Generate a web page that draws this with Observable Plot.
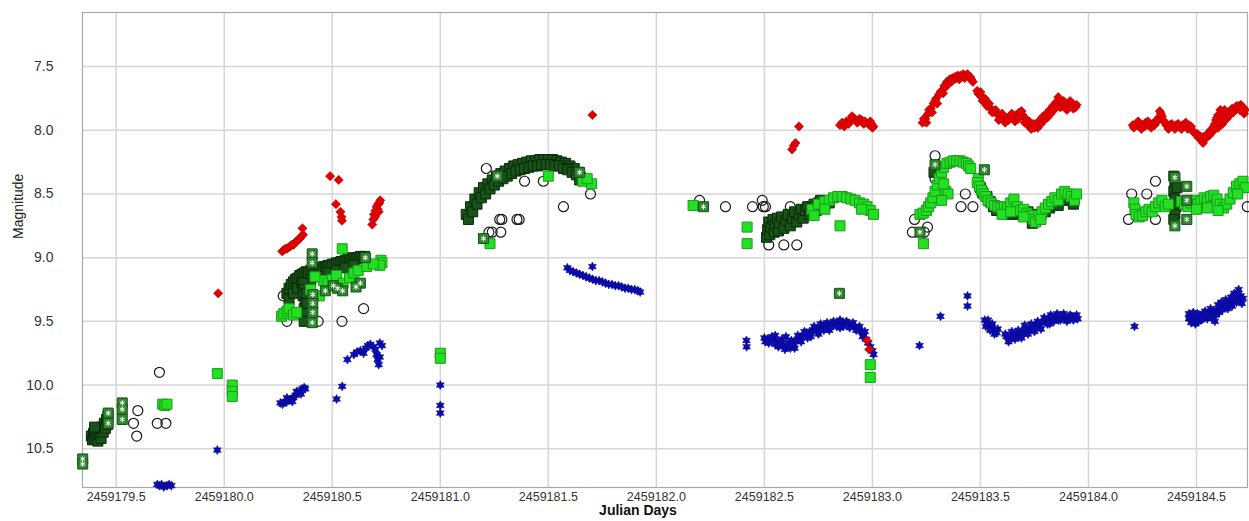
<!DOCTYPE html>
<html>
<head>
<meta charset="utf-8">
<script src="https://cdn.jsdelivr.net/npm/d3@7"></script>
<script src="https://cdn.jsdelivr.net/npm/@observablehq/plot@0.6"></script>
<style>
  html, body { margin: 0; padding: 0; background: #fff; }
  #chart svg { display: block; }
</style>
</head>
<body>
<div id="chart"></div>
<script>
// ---------- tick values ----------
const xTicks = [2459179.5, 2459180.0, 2459180.5, 2459181.0, 2459181.5, 2459182.0, 2459182.5, 2459183.0, 2459183.5, 2459184.0, 2459184.5];
const yTicks = [7.5, 8.0, 8.5, 9.0, 9.5, 10.0, 10.5];
const xLabel = "Julian Days";
const yLabel = "Magnitude";

// ---------- series: [JD, magnitude] ----------
const redDiamonds = [
  [2459179.972, 9.28],
  [2459180.268, 8.95],[2459180.275, 8.94],[2459180.283, 8.93],[2459180.290, 8.93],[2459180.298, 8.92],[2459180.305, 8.91],[2459180.312, 8.90],[2459180.320, 8.90],[2459180.328, 8.88],[2459180.335, 8.87],[2459180.343, 8.86],[2459180.350, 8.85],[2459180.358, 8.83],[2459180.365, 8.82],[2459180.362, 8.77],
  [2459180.490, 8.36],[2459180.530, 8.39],[2459180.517, 8.58],[2459180.538, 8.64],[2459180.543, 8.68],[2459180.545, 8.71],
  [2459180.685, 8.74],[2459180.690, 8.70],[2459180.693, 8.66],[2459180.698, 8.68],[2459180.700, 8.63],[2459180.705, 8.60],[2459180.710, 8.62],[2459180.712, 8.58],[2459180.718, 8.57],[2459180.722, 8.55],[2459180.715, 8.64],
  [2459181.704, 7.88],
  [2459182.628, 8.15],[2459182.636, 8.12],[2459182.644, 8.10],[2459182.660, 7.97],
  [2459182.850, 7.96],[2459182.860, 7.94],[2459182.880, 7.93],[2459182.900, 7.92],[2459182.912, 7.90],[2459182.930, 7.94],[2459182.950, 7.92],[2459182.965, 7.93],[2459182.980, 7.95],[2459182.995, 7.95],[2459183.005, 7.97],
  [2459182.870, 7.97],[2459182.890, 7.95],[2459182.905, 7.89],[2459182.940, 7.91],[2459182.960, 7.95],[2459182.990, 7.93],[2459183.000, 7.98],
  [2459182.975, 9.65],[2459182.985, 9.72],
  [2459183.232, 7.94],[2459183.245, 7.91],[2459183.258, 7.87],[2459183.270, 7.83],[2459183.283, 7.79],[2459183.295, 7.75],[2459183.308, 7.72],[2459183.320, 7.69],[2459183.333, 7.65],[2459183.345, 7.62],[2459183.358, 7.60],[2459183.370, 7.59],[2459183.383, 7.58],[2459183.395, 7.57],[2459183.408, 7.57],[2459183.420, 7.56],[2459183.433, 7.57],[2459183.445, 7.58],[2459183.458, 7.60],
  [2459183.238, 7.91],[2459183.250, 7.94],[2459183.262, 7.84],[2459183.276, 7.86],[2459183.290, 7.77],[2459183.300, 7.79],[2459183.315, 7.70],[2459183.327, 7.71],[2459183.340, 7.66],[2459183.352, 7.63],[2459183.365, 7.62],[2459183.378, 7.60],[2459183.390, 7.59],[2459183.402, 7.60],[2459183.415, 7.58],[2459183.427, 7.59],[2459183.440, 7.56],[2459183.452, 7.58],[2459183.465, 7.62],
  [2459183.485, 7.69],[2459183.495, 7.72],[2459183.505, 7.74],[2459183.515, 7.76],[2459183.525, 7.78],[2459183.535, 7.80],[2459183.548, 7.83],[2459183.560, 7.85],[2459183.575, 7.87],[2459183.590, 7.89],[2459183.605, 7.90],[2459183.620, 7.91],[2459183.635, 7.89],[2459183.650, 7.90],[2459183.665, 7.88],[2459183.680, 7.86],[2459183.695, 7.88],[2459183.710, 7.91],[2459183.725, 7.93],[2459183.740, 7.96],[2459183.750, 7.98],[2459183.760, 7.95],[2459183.775, 7.92],[2459183.790, 7.89],[2459183.805, 7.87],[2459183.820, 7.84],[2459183.835, 7.81],[2459183.850, 7.78],[2459183.865, 7.77],[2459183.880, 7.80],[2459183.895, 7.82],[2459183.910, 7.80],[2459183.925, 7.79],[2459183.940, 7.82],
  [2459183.490, 7.71],[2459183.500, 7.70],[2459183.510, 7.77],[2459183.520, 7.75],[2459183.530, 7.81],[2459183.540, 7.79],[2459183.555, 7.86],[2459183.570, 7.84],[2459183.585, 7.92],[2459183.600, 7.87],[2459183.615, 7.94],[2459183.630, 7.92],[2459183.645, 7.87],[2459183.660, 7.93],[2459183.675, 7.91],[2459183.690, 7.85],[2459183.705, 7.94],[2459183.720, 7.96],[2459183.735, 7.99],[2459183.745, 7.95],[2459183.765, 7.98],[2459183.780, 7.95],[2459183.795, 7.92],[2459183.810, 7.90],[2459183.825, 7.87],[2459183.840, 7.84],[2459183.855, 7.81],[2459183.860, 7.74],[2459183.870, 7.82],[2459183.885, 7.77],[2459183.900, 7.84],[2459183.915, 7.77],[2459183.930, 7.83],[2459183.945, 7.80],
  [2459184.205, 7.96],[2459184.220, 7.95],[2459184.235, 7.97],[2459184.250, 7.96],[2459184.265, 7.94],[2459184.280, 7.96],[2459184.295, 7.95],[2459184.310, 7.93],[2459184.325, 7.90],[2459184.335, 7.87],[2459184.345, 7.92],[2459184.360, 7.96],[2459184.375, 7.96],[2459184.390, 7.97],[2459184.405, 7.96],[2459184.420, 7.97],[2459184.435, 7.96],[2459184.450, 7.94],[2459184.465, 7.96],[2459184.480, 8.00],[2459184.495, 8.03],[2459184.510, 8.06],[2459184.525, 8.08],[2459184.535, 8.05],[2459184.550, 8.03],[2459184.565, 8.00],[2459184.580, 7.97],[2459184.590, 7.92],[2459184.600, 7.88],[2459184.610, 7.84],[2459184.620, 7.86],[2459184.635, 7.89],[2459184.650, 7.86],[2459184.665, 7.83],[2459184.680, 7.84],[2459184.695, 7.81],[2459184.710, 7.84],[2459184.720, 7.87],[2459184.600, 7.98],[2459184.620, 7.95],
  [2459184.210, 7.98],[2459184.230, 7.93],[2459184.245, 7.99],[2459184.260, 7.97],[2459184.275, 7.93],[2459184.290, 7.98],[2459184.305, 7.96],[2459184.320, 7.93],[2459184.330, 7.85],[2459184.340, 7.89],[2459184.355, 7.94],[2459184.370, 7.99],[2459184.385, 7.95],[2459184.400, 7.99],[2459184.415, 7.95],[2459184.430, 7.99],[2459184.445, 7.97],[2459184.460, 7.99],[2459184.475, 7.97],[2459184.490, 8.02],[2459184.505, 8.03],[2459184.520, 8.05],[2459184.530, 8.10],[2459184.545, 8.06],[2459184.560, 8.04],[2459184.575, 8.01],[2459184.585, 7.95],[2459184.595, 7.90],[2459184.605, 7.93],[2459184.615, 7.88],[2459184.630, 7.84],[2459184.640, 7.91],[2459184.655, 7.88],[2459184.670, 7.86],[2459184.685, 7.81],[2459184.700, 7.84],[2459184.705, 7.80],[2459184.715, 7.82],[2459184.725, 7.84]
];

const blueStars = [
  [2459179.968, 10.51],
  [2459179.690, 10.78],[2459179.700, 10.79],[2459179.710, 10.78],[2459179.720, 10.80],[2459179.735, 10.79],[2459179.745, 10.78],[2459179.755, 10.79],
  [2459180.260, 10.14],[2459180.270, 10.15],[2459180.280, 10.13],[2459180.290, 10.13],[2459180.300, 10.12],[2459180.310, 10.11],[2459180.320, 10.10],[2459180.330, 10.08],[2459180.340, 10.06],[2459180.350, 10.05],[2459180.360, 10.03],[2459180.370, 10.02],[2459180.375, 10.03],
  [2459180.290, 10.10],[2459180.315, 10.13],[2459180.335, 10.05],[2459180.355, 10.07],
  [2459180.520, 10.11],[2459180.546, 10.01],
  [2459180.570, 9.80],[2459180.600, 9.76],[2459180.615, 9.74],[2459180.630, 9.73],[2459180.645, 9.75],[2459180.655, 9.71],[2459180.665, 9.69],[2459180.676, 9.68],[2459180.690, 9.70],[2459180.700, 9.72],[2459180.705, 9.76],[2459180.710, 9.80],[2459180.715, 9.84],[2459180.720, 9.67],[2459180.730, 9.69],[2459180.720, 9.78],
  [2459181.000, 10.00],[2459181.000, 10.16],[2459181.000, 10.22],
  [2459181.588, 9.08],[2459181.600, 9.10],[2459181.615, 9.11],[2459181.630, 9.12],[2459181.645, 9.13],[2459181.660, 9.14],[2459181.675, 9.15],[2459181.690, 9.16],[2459181.704, 9.07],[2459181.705, 9.17],[2459181.720, 9.18],[2459181.735, 9.18],[2459181.750, 9.19],[2459181.765, 9.20],[2459181.780, 9.21],[2459181.795, 9.21],[2459181.810, 9.22],[2459181.825, 9.22],[2459181.840, 9.23],[2459181.855, 9.24],[2459181.870, 9.24],[2459181.885, 9.25],[2459181.900, 9.25],[2459181.915, 9.26],[2459181.925, 9.27],
  [2459182.417, 9.65],[2459182.418, 9.70],
  [2459182.500, 9.63],[2459182.515, 9.64],[2459182.530, 9.64],[2459182.545, 9.65],[2459182.560, 9.66],[2459182.575, 9.67],[2459182.590, 9.69],[2459182.605, 9.70],[2459182.620, 9.71],[2459182.635, 9.68],[2459182.650, 9.65],[2459182.665, 9.63],[2459182.680, 9.61],[2459182.695, 9.59],[2459182.710, 9.58],[2459182.725, 9.57],[2459182.740, 9.56],[2459182.755, 9.55],[2459182.770, 9.54],[2459182.785, 9.53],[2459182.800, 9.53],[2459182.815, 9.52],[2459182.830, 9.52],[2459182.845, 9.51],[2459182.860, 9.51],[2459182.875, 9.52],[2459182.890, 9.52],[2459182.905, 9.53],[2459182.920, 9.54],[2459182.935, 9.56],[2459182.950, 9.58],[2459182.960, 9.61],[2459182.970, 9.64],[2459182.980, 9.67],[2459182.990, 9.70],[2459183.000, 9.73],[2459183.005, 9.76],
  [2459182.600, 9.62],[2459182.700, 9.63],[2459182.800, 9.57],[2459182.550, 9.61],[2459182.750, 9.60],[2459182.850, 9.55],
  [2459182.505, 9.66],[2459182.520, 9.67],[2459182.535, 9.62],[2459182.550, 9.68],[2459182.565, 9.70],[2459182.580, 9.64],[2459182.595, 9.72],[2459182.610, 9.67],[2459182.625, 9.65],[2459182.640, 9.71],[2459182.655, 9.61],[2459182.670, 9.66],[2459182.685, 9.58],[2459182.700, 9.60],[2459182.715, 9.62],[2459182.730, 9.54],[2459182.745, 9.58],[2459182.760, 9.52],[2459182.775, 9.57],[2459182.790, 9.51],[2459182.805, 9.55],[2459182.820, 9.50],[2459182.835, 9.54],[2459182.850, 9.49],[2459182.865, 9.54],[2459182.880, 9.50],[2459182.895, 9.55],[2459182.910, 9.51],[2459182.925, 9.57],[2459182.940, 9.54],[2459182.955, 9.62],[2459182.965, 9.58],
  [2459183.218, 9.69],[2459183.315, 9.46],[2459183.440, 9.30],[2459183.440, 9.38],
  [2459183.520, 9.49],[2459183.530, 9.52],[2459183.540, 9.54],[2459183.550, 9.55],[2459183.560, 9.57],[2459183.575, 9.59],
  [2459183.525, 9.54],[2459183.535, 9.49],[2459183.545, 9.57],[2459183.555, 9.52],[2459183.565, 9.60],[2459183.580, 9.56],
  [2459183.620, 9.62],[2459183.635, 9.64],[2459183.650, 9.61],[2459183.665, 9.60],[2459183.680, 9.62],[2459183.695, 9.58],[2459183.710, 9.56],[2459183.725, 9.57],[2459183.740, 9.55],[2459183.755, 9.53],[2459183.770, 9.54],[2459183.785, 9.51],[2459183.800, 9.50],[2459183.815, 9.49],[2459183.830, 9.48],[2459183.845, 9.47],[2459183.860, 9.49],[2459183.875, 9.46],[2459183.890, 9.47],[2459183.905, 9.48],[2459183.920, 9.46],[2459183.935, 9.47],[2459183.950, 9.48],[2459183.700, 9.60],[2459183.750, 9.58],[2459183.820, 9.52],
  [2459183.615, 9.60],[2459183.630, 9.66],[2459183.645, 9.58],[2459183.660, 9.64],[2459183.675, 9.57],[2459183.690, 9.63],[2459183.705, 9.53],[2459183.720, 9.60],[2459183.735, 9.52],[2459183.750, 9.55],[2459183.765, 9.50],[2459183.780, 9.56],[2459183.795, 9.47],[2459183.810, 9.52],[2459183.825, 9.45],[2459183.840, 9.50],[2459183.855, 9.44],[2459183.870, 9.49],[2459183.885, 9.44],[2459183.900, 9.50],[2459183.915, 9.45],[2459183.930, 9.49],[2459183.945, 9.45],
  [2459184.213, 9.54],
  [2459184.465, 9.44],[2459184.470, 9.47],[2459184.480, 9.46],[2459184.490, 9.49],[2459184.500, 9.47],[2459184.515, 9.45],[2459184.530, 9.44],[2459184.545, 9.46],[2459184.560, 9.43],[2459184.575, 9.42],[2459184.585, 9.50],[2459184.595, 9.41],[2459184.610, 9.39],[2459184.625, 9.37],[2459184.640, 9.38],[2459184.655, 9.35],[2459184.670, 9.33],[2459184.680, 9.30],[2459184.690, 9.28],[2459184.700, 9.33],[2459184.710, 9.36],[2459184.520, 9.49],[2459184.550, 9.48],
  [2459184.465, 9.48],[2459184.475, 9.51],[2459184.485, 9.43],[2459184.495, 9.52],[2459184.505, 9.44],[2459184.510, 9.50],[2459184.525, 9.48],[2459184.540, 9.42],[2459184.555, 9.45],[2459184.565, 9.40],[2459184.570, 9.47],[2459184.590, 9.45],[2459184.600, 9.37],[2459184.605, 9.43],[2459184.615, 9.35],[2459184.620, 9.41],[2459184.635, 9.33],[2459184.645, 9.40],[2459184.660, 9.31],[2459184.665, 9.38],[2459184.675, 9.28],[2459184.685, 9.35],[2459184.695, 9.25],[2459184.705, 9.30],[2459184.715, 9.32]
];

const visualCircles = [
  [2459179.700, 9.90],[2459179.600, 10.20],[2459179.580, 10.30],[2459179.595, 10.40],[2459179.690, 10.30],[2459179.730, 10.30],
  [2459180.273, 9.30],[2459180.290, 9.50],[2459180.435, 9.50],[2459180.545, 9.50],[2459180.645, 9.40],[2459180.570, 9.00],
  [2459181.213, 8.30],[2459181.390, 8.40],[2459181.477, 8.40],[2459181.695, 8.50],[2459181.570, 8.60],[2459181.275, 8.70],[2459181.285, 8.70],[2459181.355, 8.70],[2459181.365, 8.70],[2459181.225, 8.80],[2459181.240, 8.80],[2459181.280, 8.80],
  [2459182.200, 8.55],[2459182.320, 8.60],[2459182.445, 8.60],[2459182.490, 8.55],[2459182.495, 8.60],[2459182.505, 8.60],[2459182.620, 8.60],[2459182.520, 8.90],[2459182.590, 8.90],[2459182.650, 8.90],
  [2459183.290, 8.20],[2459183.290, 8.38],[2459183.430, 8.50],[2459183.410, 8.60],[2459183.465, 8.60],[2459183.195, 8.70],[2459183.185, 8.80],[2459183.240, 8.80],[2459183.255, 8.76],
  [2459184.310, 8.40],[2459184.200, 8.50],[2459184.270, 8.50],[2459184.185, 8.70],[2459184.310, 8.70],[2459184.735, 8.60]
];

const greenSquares = [
  [2459179.715, 10.15],[2459179.725, 10.16],[2459179.735, 10.15],
  [2459179.968, 9.91],
  [2459180.037, 10.00],[2459180.037, 10.05],[2459180.037, 10.09],
  [2459180.265, 9.46],[2459180.275, 9.44],[2459180.290, 9.42],[2459180.300, 9.40],[2459180.320, 9.45],[2459180.335, 9.43],
  [2459180.546, 8.93],
  [2459180.725, 9.02],[2459180.730, 9.04],[2459180.720, 9.06],
  [2459180.460, 9.18],[2459180.480, 9.20],[2459180.500, 9.17],[2459180.520, 9.14],[2459180.550, 9.20],[2459180.580, 9.16],[2459180.600, 9.12],[2459180.620, 9.10],[2459180.660, 9.07],[2459180.690, 9.05],[2459180.400, 9.25],[2459180.420, 9.15],[2459180.440, 9.30],
  [2459181.000, 9.75],[2459181.000, 9.79],
  [2459181.230, 8.89],
  [2459181.500, 8.36],[2459181.660, 8.40],[2459181.700, 8.42],[2459181.680, 8.38],
  [2459182.170, 8.59],
  [2459182.420, 8.76],[2459182.420, 8.89],
  [2459182.850, 8.75],
  [2459182.990, 9.84],[2459182.990, 9.94],
  [2459182.720, 8.62],[2459182.750, 8.58],[2459182.780, 8.56],[2459182.800, 8.55],[2459182.820, 8.53],[2459182.840, 8.52],[2459182.860, 8.52],[2459182.880, 8.53],[2459182.900, 8.54],[2459182.920, 8.55],[2459182.940, 8.57],[2459182.960, 8.58],[2459182.975, 8.60],[2459182.990, 8.63],[2459183.005, 8.66],[2459182.950, 8.62],[2459182.780, 8.62],[2459182.730, 8.67],
  [2459183.236, 8.89],
  [2459183.220, 8.66],[2459183.235, 8.65],[2459183.250, 8.63],[2459183.260, 8.60],[2459183.270, 8.57],[2459183.280, 8.53],[2459183.290, 8.48],[2459183.300, 8.43],[2459183.310, 8.38],[2459183.320, 8.33],[2459183.330, 8.29],[2459183.345, 8.26],[2459183.360, 8.25],[2459183.375, 8.24],[2459183.390, 8.24],[2459183.405, 8.24],[2459183.420, 8.25],[2459183.435, 8.26],[2459183.445, 8.28],[2459183.455, 8.30],[2459183.340, 8.48],[2459183.350, 8.50],[2459183.320, 8.55],[2459183.330, 8.42],
  [2459183.490, 8.38],
  [2459183.485, 8.41],[2459183.495, 8.44],[2459183.505, 8.47],[2459183.515, 8.50],[2459183.525, 8.52],[2459183.535, 8.55],[2459183.550, 8.57],[2459183.565, 8.59],[2459183.580, 8.60],[2459183.595, 8.61],[2459183.610, 8.60],[2459183.625, 8.61],[2459183.640, 8.57],[2459183.655, 8.54],[2459183.670, 8.60],[2459183.685, 8.63],[2459183.700, 8.62],[2459183.715, 8.65],[2459183.730, 8.67],[2459183.745, 8.70],[2459183.755, 8.72],[2459183.770, 8.67],[2459183.785, 8.64],[2459183.800, 8.61],[2459183.815, 8.58],[2459183.830, 8.56],[2459183.845, 8.53],[2459183.860, 8.55],[2459183.875, 8.50],[2459183.890, 8.48],[2459183.905, 8.50],[2459183.920, 8.52],[2459183.935, 8.55],[2459183.945, 8.50],[2459183.600, 8.66],[2459183.640, 8.64],[2459183.700, 8.68],[2459183.780, 8.70],
  [2459184.210, 8.57],[2459184.215, 8.62],[2459184.220, 8.66],[2459184.235, 8.68],[2459184.250, 8.67],[2459184.265, 8.64],[2459184.280, 8.62],[2459184.295, 8.64],[2459184.310, 8.60],[2459184.325, 8.57],[2459184.340, 8.55],[2459184.355, 8.60],[2459184.370, 8.58],[2459184.430, 8.56],[2459184.445, 8.58],[2459184.460, 8.60],[2459184.475, 8.57],[2459184.490, 8.55],[2459184.505, 8.58],[2459184.520, 8.56],[2459184.535, 8.53],[2459184.550, 8.55],[2459184.565, 8.52],[2459184.580, 8.51],[2459184.595, 8.54],[2459184.610, 8.58],[2459184.625, 8.61],[2459184.640, 8.58],[2459184.655, 8.54],[2459184.670, 8.49],[2459184.685, 8.44],[2459184.700, 8.42],[2459184.715, 8.40],[2459184.725, 8.45],[2459184.690, 8.50],[2459184.600, 8.63],[2459184.500, 8.62],[2459184.550, 8.61]
];

const darkSquares = [
  [2459179.385, 10.40],[2459179.390, 10.43],[2459179.395, 10.38],[2459179.400, 10.42],[2459179.405, 10.36],[2459179.410, 10.40],[2459179.415, 10.44],[2459179.420, 10.35],[2459179.425, 10.39],[2459179.430, 10.42],[2459179.435, 10.33],[2459179.440, 10.37],[2459179.445, 10.30],[2459179.450, 10.34],[2459179.455, 10.27],[2459179.460, 10.31],[2459179.462, 10.24],[2459179.400, 10.33],
  [2459180.290, 9.28],[2459180.300, 9.24],[2459180.310, 9.21],[2459180.320, 9.19],[2459180.330, 9.17],[2459180.340, 9.16],[2459180.350, 9.14],[2459180.360, 9.13],[2459180.370, 9.12],[2459180.380, 9.11],[2459180.390, 9.12],[2459180.400, 9.10],[2459180.410, 9.11],[2459180.420, 9.09],[2459180.430, 9.10],[2459180.440, 9.08],[2459180.450, 9.09],[2459180.460, 9.07],[2459180.470, 9.08],[2459180.480, 9.06],[2459180.490, 9.07],[2459180.500, 9.05],[2459180.510, 9.06],[2459180.520, 9.04],[2459180.530, 9.05],[2459180.540, 9.03],[2459180.550, 9.04],[2459180.560, 9.02],[2459180.570, 9.03],[2459180.580, 9.01],[2459180.590, 9.02],[2459180.600, 9.00],[2459180.610, 9.01],[2459180.620, 9.00],[2459180.630, 8.99],[2459180.640, 9.00],[2459180.650, 8.99],
  [2459180.300, 9.33],[2459180.320, 9.28],[2459180.340, 9.24],[2459180.360, 9.20],[2459180.400, 9.18],[2459180.440, 9.15],[2459180.480, 9.12],[2459180.520, 9.10],[2459180.560, 9.08],[2459180.600, 9.06],
  [2459180.365, 9.20],[2459180.370, 9.25],[2459180.365, 9.30],[2459180.375, 9.35],[2459180.370, 9.40],[2459180.375, 9.45],[2459180.370, 9.50],[2459180.380, 9.28],[2459180.380, 9.42],[2459180.385, 9.36],
  [2459181.120, 8.66],[2459181.140, 8.60],[2459181.160, 8.54],[2459181.180, 8.49],[2459181.200, 8.45],[2459181.220, 8.42],[2459181.240, 8.39],[2459181.260, 8.36],[2459181.280, 8.34],[2459181.300, 8.32],[2459181.320, 8.30],[2459181.340, 8.28],[2459181.360, 8.27],[2459181.380, 8.26],[2459181.400, 8.25],[2459181.420, 8.24],[2459181.440, 8.24],[2459181.460, 8.23],[2459181.480, 8.23],[2459181.500, 8.23],[2459181.520, 8.23],[2459181.540, 8.24],[2459181.560, 8.25],[2459181.580, 8.26],[2459181.600, 8.28],[2459181.620, 8.30],[2459181.640, 8.33],[2459181.650, 8.37],
  [2459181.130, 8.70],[2459181.150, 8.64],[2459181.170, 8.58],[2459181.190, 8.53],[2459181.210, 8.50],[2459181.230, 8.46],[2459181.250, 8.43],[2459181.270, 8.40],[2459181.290, 8.38],[2459181.310, 8.36],[2459181.330, 8.34],[2459181.350, 8.32],[2459181.370, 8.31],[2459181.390, 8.30],[2459181.410, 8.29],[2459181.430, 8.28],[2459181.450, 8.28],[2459181.470, 8.27],[2459181.490, 8.27],[2459181.510, 8.27],[2459181.530, 8.28],[2459181.550, 8.28],[2459181.570, 8.30],[2459181.590, 8.31],[2459181.610, 8.33],[2459181.630, 8.35],[2459181.645, 8.39],
  [2459182.510, 8.84],[2459182.515, 8.78],[2459182.520, 8.72],[2459182.525, 8.82],[2459182.530, 8.76],[2459182.540, 8.70],[2459182.545, 8.80],[2459182.550, 8.74],[2459182.560, 8.69],[2459182.565, 8.79],[2459182.570, 8.73],[2459182.580, 8.68],[2459182.590, 8.77],[2459182.600, 8.71],[2459182.610, 8.66],[2459182.620, 8.75],[2459182.630, 8.69],[2459182.640, 8.64],[2459182.650, 8.72],[2459182.660, 8.66],[2459182.670, 8.62],[2459182.680, 8.69],[2459182.690, 8.63],[2459182.700, 8.60],[2459182.710, 8.66],[2459182.720, 8.60],[2459182.730, 8.58],[2459182.740, 8.63],[2459182.750, 8.57],[2459182.760, 8.55],[2459182.780, 8.59],[2459182.800, 8.57],
  [2459183.285, 8.33],
  [2459183.500, 8.45],[2459183.530, 8.52],[2459183.560, 8.60],[2459183.590, 8.63],[2459183.620, 8.62],[2459183.660, 8.63],[2459183.720, 8.64],[2459183.760, 8.66],[2459183.800, 8.64],[2459183.840, 8.58],[2459183.880, 8.54],
  [2459183.510, 8.49],[2459183.545, 8.56],[2459183.575, 8.63],[2459183.605, 8.64],[2459183.635, 8.66],[2459183.680, 8.66],[2459183.740, 8.73],[2459183.780, 8.66],[2459183.820, 8.61],[2459183.860, 8.59],[2459183.900, 8.55],[2459183.930, 8.58],
  [2459184.395, 8.36],[2459184.400, 8.42],[2459184.395, 8.48],[2459184.400, 8.54],[2459184.405, 8.60],[2459184.400, 8.66],[2459184.395, 8.70],[2459184.410, 8.45],[2459184.410, 8.58]
];

const starSquares = [
  [2459179.345, 10.58],[2459179.345, 10.62],
  [2459179.463, 10.22],[2459179.463, 10.30],
  [2459179.528, 10.14],[2459179.528, 10.19],[2459179.528, 10.27],
  [2459180.407, 8.97],[2459180.407, 9.04],[2459180.410, 9.29],[2459180.410, 9.36],[2459180.410, 9.43],[2459180.407, 9.51],
  [2459180.653, 9.00],[2459180.630, 9.20],[2459180.468, 9.26],[2459180.505, 9.22],[2459180.525, 9.24],[2459180.548, 9.26],[2459180.610, 9.23],
  [2459181.264, 8.36],[2459181.200, 8.85],[2459181.645, 8.33],
  [2459182.218, 8.60],
  [2459182.847, 9.28],
  [2459183.290, 8.27],[2459183.220, 8.80],[2459183.518, 8.31],
  [2459184.400, 8.37],[2459184.400, 8.75],[2459184.455, 8.44],[2459184.455, 8.70],[2459184.455, 8.55]
];

// ---------- custom marker shapes ----------
const squareSym = {draw(ctx, size) { const r = Math.sqrt(size / Math.PI); ctx.moveTo(-r, -r); ctx.lineTo(r, -r); ctx.lineTo(r, r); ctx.lineTo(-r, r); ctx.closePath(); }};
const diamondSym = {draw(ctx, size) { const r = Math.sqrt(size / Math.PI); ctx.moveTo(0, -r); ctx.lineTo(r, 0); ctx.lineTo(0, r); ctx.lineTo(-r, 0); ctx.closePath(); }};
const star6Sym = {draw(ctx, size) {
  const R = Math.sqrt(size / Math.PI), ri = R * 0.55;
  for (let i = 0; i < 12; i++) {
    const a = -Math.PI / 2 + i * Math.PI / 6, rr = i % 2 ? ri : R;
    const px = rr * Math.cos(a), py = rr * Math.sin(a);
    if (i === 0) ctx.moveTo(px, py); else ctx.lineTo(px, py);
  }
  ctx.closePath();
}};
const asteriskSym = {draw(ctx, size) {
  const r = Math.sqrt(size / Math.PI);
  for (let i = 0; i < 3; i++) {
    const a = Math.PI / 2 + i * Math.PI / 3;
    ctx.moveTo(r * Math.cos(a), r * Math.sin(a));
    ctx.lineTo(-r * Math.cos(a), -r * Math.sin(a));
  }
}};

const X = d => d[0], Y = d => d[1];

const chart = Plot.plot({
  width: 1249,
  height: 521,
  marginLeft: 82,
  marginRight: 2,
  marginTop: 12,
  marginBottom: 34,
  style: {background: "#fff", fontFamily: "'Liberation Sans', Arial, sans-serif", color: "#333"},
  x: {domain: [2459179.344, 2459184.736]},
  y: {domain: [10.804, 7.0755]},
  marks: [
    Plot.gridX(xTicks, {stroke: "#d6d6d6", strokeOpacity: 1, strokeWidth: 1.5}),
    Plot.gridY(yTicks, {stroke: "#d6d6d6", strokeOpacity: 1, strokeWidth: 1.5}),
    Plot.frame({stroke: "#a8a8a8", strokeWidth: 1.2}),
    Plot.axisX(xTicks, {tickSize: 0, tickPadding: 5, tickFormat: d3.format(".1f"), fontSize: 12.5, fill: "#333", label: null}),
    Plot.axisY(yTicks, {tickSize: 0, tickPadding: 29, tickFormat: d3.format(".1f"), fontSize: 14, fill: "#333", label: null}),
    Plot.text([xLabel], {frameAnchor: "bottom", dy: 27.5, dx: -27, fontSize: 14, fontWeight: "bold", fill: "#111"}),
    Plot.text([yLabel], {frameAnchor: "left", dx: -64, dy: -11, rotate: -90, fontSize: 14, fill: "#222"}),
    Plot.dot(visualCircles, {x: X, y: Y, r: 5, fill: "none", stroke: "#1a1a1a", strokeWidth: 1.2}),
    Plot.dot(darkSquares, {x: X, y: Y, symbol: squareSym, r: 5, fill: "#1a531a", stroke: "#072a07", strokeWidth: 1}),
    Plot.dot(greenSquares, {x: X, y: Y, symbol: squareSym, r: 5, fill: "#22e022", stroke: "#1b9a1b", strokeWidth: 1}),
    Plot.dot(starSquares, {x: X, y: Y, symbol: squareSym, r: 5, fill: "#2f862f", stroke: "#145214", strokeWidth: 1}),
    Plot.dot(starSquares, {x: X, y: Y, symbol: asteriskSym, r: 2.8, fill: "none", stroke: "#fff", strokeWidth: 1}),
    Plot.dot(blueStars, {x: X, y: Y, symbol: star6Sym, r: 4.5, fill: "#0a0ab0", stroke: "#0a0a90", strokeWidth: 0.6}),
    Plot.dot(redDiamonds, {x: X, y: Y, symbol: diamondSym, r: 4.6, fill: "#e00000", stroke: "#c00000", strokeWidth: 0.6})
  ]
});
document.getElementById("chart").appendChild(chart);
</script>
</body>
</html>
